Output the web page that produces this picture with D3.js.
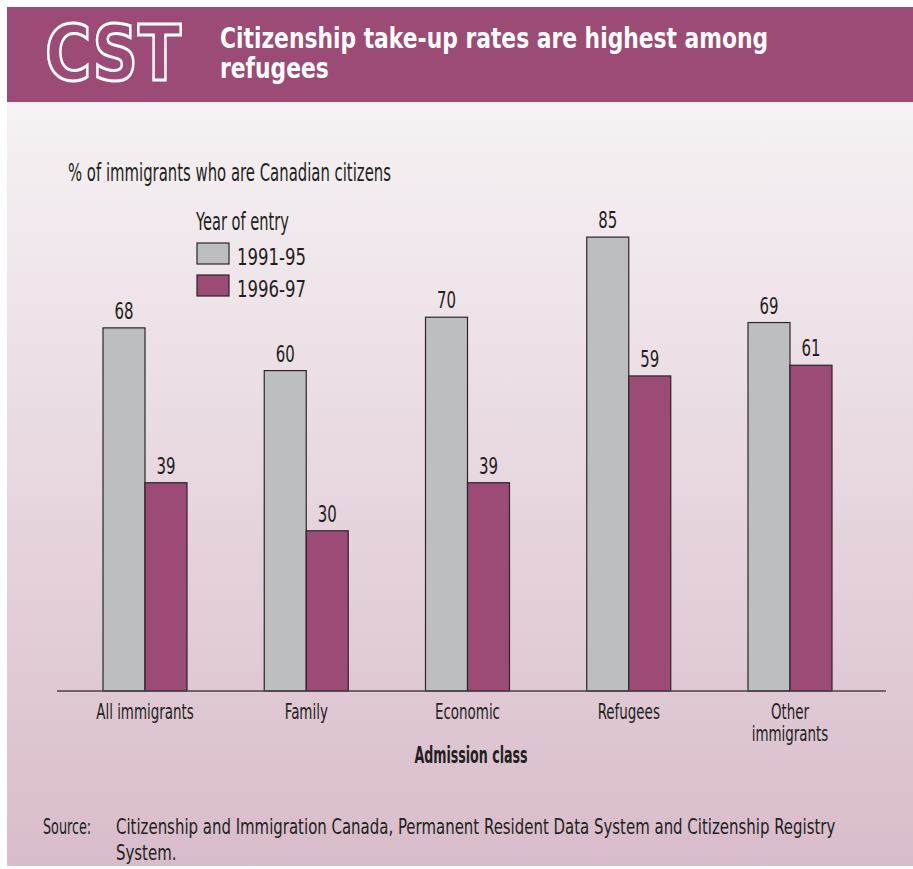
<!DOCTYPE html>
<html lang="en">
<head>
<meta charset="utf-8">
<title>Citizenship take-up rates</title>
<script src="https://cdn.jsdelivr.net/npm/d3@7"></script>
<style>
  body { margin: 0; background: #fff; }
  text { font-family: "DejaVu Sans", sans-serif; fill: #231f20; }
</style>
</head>
<body>
<script>
// data
var categories = ["All immigrants", "Family", "Economic", "Refugees", "Other immigrants"];
var series = ["1991-95", "1996-97"];
var values9195 = [68, 60, 70, 85, 69];
var values9697 = [39, 30, 39, 59, 61];
var colors = ["#bdbec0", "#9c4a76"];

var W = 913, H = 869;
var svg = d3.select("body").append("svg")
    .attr("width", W).attr("height", H);

// the original uses a tall condensed face, so squeeze the text sideways
function squeeze(sel, f, ax) {
    sel.attr("transform", "translate(" + ax + ",0) scale(" + f + ",1) translate(" + (-ax) + ",0)");
}

// background gradient
var defs = svg.append("defs");
var grad = defs.append("linearGradient")
    .attr("id", "bg").attr("x1", 0).attr("y1", 0).attr("x2", 0).attr("y2", 1);
grad.append("stop").attr("offset", "0%").attr("stop-color", "#f6f2f4");
grad.append("stop").attr("offset", "100%").attr("stop-color", "#d9bccb");

svg.append("rect").attr("x", 7).attr("y", 102).attr("width", W - 7).attr("height", 764)
    .attr("fill", "url(#bg)");

// header band
svg.append("rect").attr("x", 7).attr("y", 7).attr("width", W - 7).attr("height", 95)
    .attr("fill", "#9c4a76");

svg.append("text")
    .attr("x", 45).attr("y", 80)
    .style("font-weight", "bold")
    .style("font-size", "76px")
    .attr("textLength", 136).attr("lengthAdjust", "spacingAndGlyphs")
    .style("fill", "#9c4a76").style("stroke", "#fff").style("stroke-width", 3)
    .text("CST");

var title = svg.append("text")
    .style("font-weight", "bold").style("font-size", "28px").style("fill", "#fff");
title.append("tspan").attr("x", 220).attr("y", 48).text("Citizenship take-up rates are highest among");
title.append("tspan").attr("x", 220).attr("y", 78).text("refugees");
squeeze(title, 0.78, 220);

// chart area
var baseY = 691;

var g = svg.append("g");

var x0 = d3.scalePoint()
    .domain(categories)
    .range([145, 790]);

var x1 = d3.scaleBand()
    .domain(series)
    .range([-42, 42])
    .padding(0);

var yScale = d3.scaleLinear()
    .domain([0, 100])
    .range([baseY, 157]);

var table = categories.map(function(c, i) {
    return { cat: c, vals: [values9195[i], values9697[i]] };
});

var groups = g.selectAll("g.grp")
    .data(table)
    .enter().append("g")
    .attr("class", "grp")
    .attr("transform", function(d) { return "translate(" + x0(d.cat) + ",0)"; });

groups.selectAll("rect")
    .data(function(d) { return d.vals.map(function(v, j) { return { s: series[j], v: v, j: j }; }); })
    .enter().append("rect")
    .attr("x", function(d) { return x1(d.s); })
    .attr("y", function(d) { return yScale(d.v); })
    .attr("width", x1.bandwidth())
    .attr("height", function(d) { return baseY - yScale(d.v); })
    .attr("fill", function(d) { return colors[d.j]; })
    .attr("stroke", "#2b2527").attr("stroke-width", 1.2);

groups.selectAll("text.val")
    .data(function(d) { return d.vals.map(function(v, j) { return { s: series[j], v: v }; }); })
    .enter().append("text")
    .attr("class", "val")
    .attr("x", function(d) { return x1(d.s) + x1.bandwidth() / 2; })
    .attr("y", function(d) { return yScale(d.v) - 9; })
    .attr("text-anchor", "middle")
    .style("font-size", "23px")
    .text(function(d) { return d.v; })
    .each(function(d) { squeeze(d3.select(this), 0.65, x1(d.s) + x1.bandwidth() / 2); });

// x axis baseline
g.append("line")
    .attr("x1", 57).attr("x2", 886)
    .attr("y1", baseY).attr("y2", baseY)
    .attr("stroke", "#4a4446").attr("stroke-width", 1.5);

// category labels
groups.append("text")
    .attr("text-anchor", "middle")
    .style("font-size", "21px")
    .each(function(d) {
        var t = d3.select(this);
        var lines = d.cat === "Other immigrants" ? ["Other", "immigrants"] : [d.cat];
        lines.forEach(function(l, k) {
            t.append("tspan").attr("x", 0).attr("y", 719 + k * 22).text(l);
        });
        squeeze(t, 0.64, 0);
    });

var xTitle = svg.append("text")
    .attr("x", 471).attr("y", 763)
    .attr("text-anchor", "middle")
    .style("font-size", "23px")
    .style("font-weight", "bold")
    .text("Admission class");
squeeze(xTitle, 0.55, 471);

// y title
var yTitle = svg.append("text")
    .attr("x", 68).attr("y", 181)
    .style("font-size", "24px")
    .text("% of immigrants who are Canadian citizens");
squeeze(yTitle, 0.62, 68);

// legend
var legTitle = svg.append("text")
    .attr("x", 196).attr("y", 230)
    .style("font-size", "25px")
    .text("Year of entry");
squeeze(legTitle, 0.585, 196);

var legend = svg.selectAll("g.leg")
    .data(series)
    .enter().append("g")
    .attr("class", "leg")
    .attr("transform", function(d, i) { return "translate(197," + (243 + i * 32) + ")"; });

legend.append("rect")
    .attr("width", 32).attr("height", 21)
    .attr("fill", function(d, i) { return colors[i]; })
    .attr("stroke", "#2b2527").attr("stroke-width", 1.2);

legend.append("text")
    .attr("x", 40).attr("y", 22)
    .style("font-size", "23px")
    .text(function(d) { return d; })
    .each(function() { squeeze(d3.select(this), 0.72, 40); });

// source
var srcLabel = svg.append("text")
    .attr("x", 43).attr("y", 834)
    .style("font-size", "22px")
    .text("Source:");
squeeze(srcLabel, 0.58, 43);

var src = svg.append("text").style("font-size", "22px");
src.append("tspan").attr("x", 116).attr("y", 834)
    .text("Citizenship and Immigration Canada, Permanent Resident Data System and Citizenship Registry");
src.append("tspan").attr("x", 116).attr("y", 860).text("System.");
squeeze(src, 0.68, 116);
</script>
</body>
</html>
